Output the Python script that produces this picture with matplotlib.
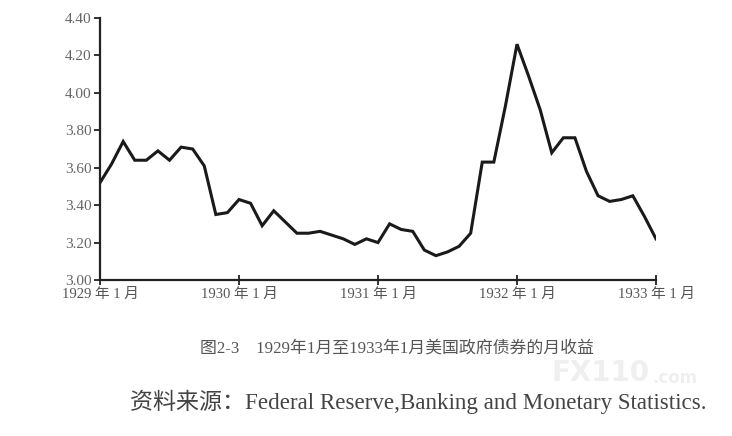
import matplotlib
matplotlib.use("Agg")
from matplotlib import pyplot as plt
import numpy as np

# monthly yield, Jan 1929 .. Jan 1933 (month index 0..48)
yields = [
    3.52, 3.62, 3.74, 3.64, 3.64, 3.69, 3.64, 3.71, 3.70, 3.61, 3.35, 3.36,
    3.43, 3.41, 3.29, 3.37, 3.31, 3.25, 3.25, 3.26, 3.24, 3.22, 3.19, 3.22,
    3.20, 3.30, 3.27, 3.26, 3.16, 3.13, 3.15, 3.18, 3.25, 3.63, 3.63, 3.93,
    4.26, 4.09, 3.91, 3.68, 3.76, 3.76, 3.58, 3.45, 3.42, 3.43, 3.45, 3.34,
    3.22,
]
months = np.arange(len(yields))

tick_pos = [0, 12, 24, 36, 48]
tick_labels = ["1929 年 1 月", "1930 年 1 月", "1931 年 1 月", "1932 年 1 月", "1933 年 1 月"]
y_ticks = [3.00, 3.20, 3.40, 3.60, 3.80, 4.00, 4.20, 4.40]

caption = "图2-3　1929年1月至1933年1月美国政府债券的月收益"
source = "资料来源：Federal Reserve,Banking and Monetary Statistics."

fam = ["Liberation Serif", "Noto Sans CJK SC"]
plt.rcParams["font.family"] = fam

fig = plt.figure(figsize=(7.32, 4.36), dpi=100)
ax = fig.add_axes([100 / 732, 1 - 280 / 436, 556 / 732, 262 / 436])

ax.plot(months, yields, color="#1a1a1a", lw=2.2, solid_joinstyle="miter")

ax.set_xlim(0, 48)
ax.set_ylim(3.0, 4.4)
ax.set_xticks(tick_pos)
ax.set_xticklabels(tick_labels)
ax.set_yticks(y_ticks)
ax.set_yticklabels([f"{v:.2f}" for v in y_ticks])

for s in ["top", "right"]:
    ax.spines[s].set_visible(False)
for s in ["left", "bottom"]:
    ax.spines[s].set_linewidth(1.6)
    ax.spines[s].set_color("#222222")

ax.tick_params(axis="x", direction="inout", length=7, width=1.3, pad=2,
               labelsize=10.5, labelcolor="#555555", color="#222222")
ax.tick_params(axis="y", direction="out", length=4, width=1.3, pad=2,
               labelsize=11, labelcolor="#666666", color="#222222")

# watermark
fig.text(551 / 732, 1 - 387 / 436, "FX110", fontsize=20, fontweight="bold",
         color="#efefef", family="DejaVu Sans", ha="left", va="bottom", zorder=0)
fig.text(652 / 732, 1 - 387 / 436, ".com", fontsize=12, fontweight="bold",
         color="#efefef", family="DejaVu Sans", ha="left", va="bottom", zorder=0)

fig.text(397 / 732, 1 - 348 / 436, caption, fontsize=12.2, color="#555555",
         ha="center", va="center", family=fam)
fig.text(130 / 732, 1 - 402 / 436, source, fontsize=16.6, color="#444444",
         ha="left", va="center", family=fam)

fig.savefig("out.png", dpi=100)
